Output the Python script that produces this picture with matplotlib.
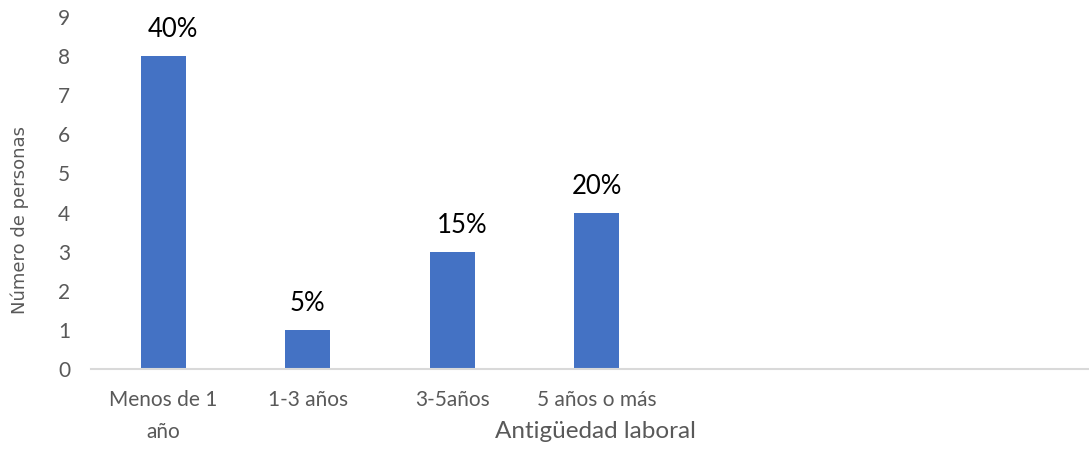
import matplotlib.pyplot as plt
import numpy as np

# datos
categorias = ['Menos de 1\naño', '1-3 años', '3-5años', '5 años o más']
personas = [8, 1, 3, 4]
porcentajes = ['40%', '5%', '15%', '20%']
desplaz_etiqueta = [7, 0, 7, 0]  # corrimiento horizontal de las etiquetas (pt)

plt.rcParams['font.family'] = ['Lato', 'DejaVu Sans']

fig = plt.figure(figsize=(10.89, 4.49), dpi=100)
ax = fig.add_axes([91 / 1089, 80 / 449, 1 - 91 / 1089, (449 - 17 - 80) / 449])

x = np.arange(len(categorias))
barras = ax.bar(x, personas, width=0.31, color='#4472C4', zorder=2)

for b, txt, dx in zip(barras, porcentajes, desplaz_etiqueta):
    ax.annotate(txt, (b.get_x() + b.get_width() / 2, b.get_height()),
                xytext=(dx, 10), textcoords='offset points',
                ha='center', va='bottom', fontsize=18.5, color='black')

ax.set_xlim(-0.5, (1089 - 163) / 144.5)
ax.set_ylim(0, 9)
ax.set_yticks(range(0, 10))
ax.set_xticks(x)
ax.set_xticklabels(categorias, linespacing=1.75)
ax.tick_params(axis='both', length=0, labelsize=15, labelcolor='#595959')
ax.tick_params(axis='y', pad=15)
ax.tick_params(axis='x', pad=15)

for s in ['top', 'right', 'left']:
    ax.spines[s].set_visible(False)
ax.spines['bottom'].set_color('#D9D9D9')
ax.spines['bottom'].set_linewidth(1.5)

fig.text(20 / 1089, 1 - 220 / 449, 'Número de personas', rotation=90,
         ha='center', va='center', fontsize=13, color='#595959',
         family=['Liberation Sans Narrow', 'DejaVu Sans'])
fig.text(595 / 1089, 1 - 432 / 449, 'Antigüedad laboral', ha='center',
         va='center', fontsize=17.5, color='#595959')

fig.savefig('out.png', dpi=100)
